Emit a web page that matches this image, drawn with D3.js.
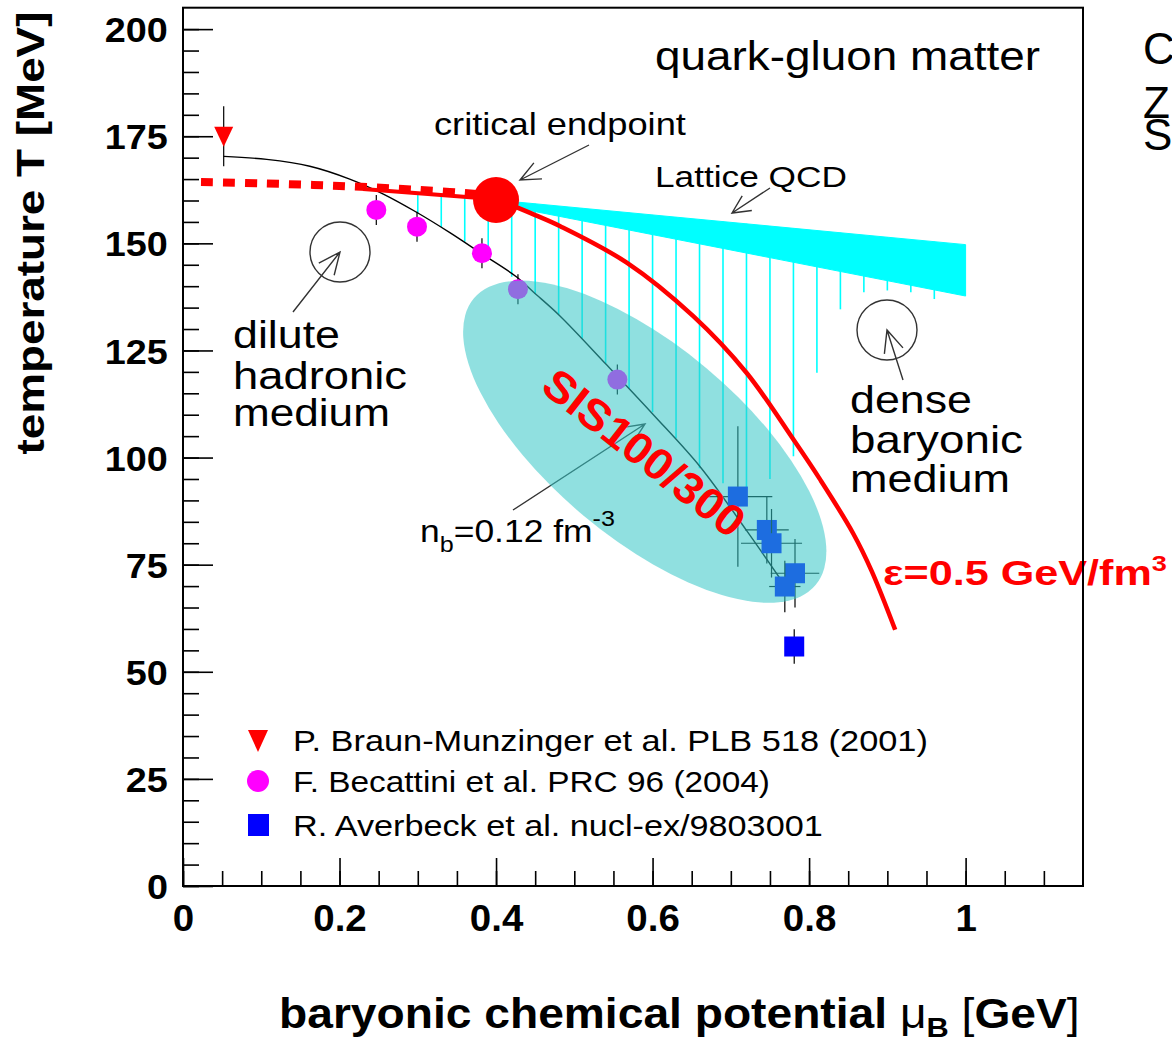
<!DOCTYPE html>
<html>
<head>
<meta charset="utf-8">
<script src="https://cdn.jsdelivr.net/npm/d3@7"></script>
<style>
  body { margin: 0; background: #fff; }
  svg { display: block; }
  text { font-family: "Liberation Sans", Arial, Helvetica, sans-serif; }
</style>
</head>
<body>
<svg id="chart" width="1172" height="1040"></svg>
<script>
// ---- axis ticks ----
const xMajorTicks = [0, 0.2, 0.4, 0.6, 0.8, 1];
const xTickLabels = ["0", "0.2", "0.4", "0.6", "0.8", "1"];
const yMajorTicks = [0, 25, 50, 75, 100, 125, 150, 175, 200];
const yTickLabels = ["0", "25", "50", "75", "100", "125", "150", "175", "200"];

// ---- freeze-out data ----
const braunMu = [0.052];
const braunT = [175];
const braunTErr = [7];

const becattiniMu = [0.247, 0.299, 0.382, 0.428, 0.555];
const becattiniT = [157.8, 153.9, 147.7, 139.3, 118.2];
const becattiniTErr = [3.5, 3.5, 3.5, 3.5, 3.5];

const averbeckMu = [0.709, 0.746, 0.752, 0.782, 0.769, 0.781];
const averbeckT = [90.9, 83.1, 80.0, 73.0, 69.9, 55.9];
const averbeckTErr = [16.4, 7.8, 8, 8, 6, 4];
const averbeckMuErr = [0.044, 0.028, 0.039, 0.031, 0.02, 0];

// ---- n_b = 0.12 fm^-3 line ----
const nbMu = [0.052, 0.107, 0.162, 0.213, 0.256, 0.299, 0.341, 0.384, 0.426, 0.448, 0.482, 0.541, 0.601, 0.661, 0.720, 0.776];
const nbT = [170.3, 169.6, 168.0, 165.0, 161.5, 157.2, 152.5, 147.3, 142.2, 138.6, 133.0, 121.7, 110.0, 97.8, 83.0, 68.3];

// ---- crossover (dashed) and first-order line ----
const crossMu = [0.023, 0.1, 0.2, 0.3, 0.4];
const crossT = [164.3, 164.0, 163.4, 162.5, 161.2];
const transMu = [0.23, 0.4];
const transT = [162.7, 160.3];

// ---- critical endpoint ----
const cepMu = [0.4];
const cepT = [160.1];

// ---- epsilon = 0.5 GeV/fm^3 curve ----
const epsMu = [0.401, 0.45, 0.482, 0.567, 0.652, 0.720, 0.780, 0.814, 0.856, 0.880, 0.910];
const epsT = [160.3, 156.6, 154.0, 145.5, 133.0, 119.8, 104.2, 94.9, 82.4, 73.5, 59.8];

// ---- lattice QCD band ----
const latticeMu = [0.40, 1.0];
const latticeHigh = [160.1, 149.7];
const latticeLow = [159.2, 137.7];

// ---- hatched region below the transition ----
const hatchMu = [0.30, 0.33, 0.36, 0.39, 0.42, 0.45, 0.48, 0.51, 0.54, 0.57, 0.60, 0.63, 0.66, 0.69, 0.72, 0.75, 0.78, 0.81, 0.84, 0.87, 0.90, 0.93, 0.96];
const hatchLow = [157.0, 153.8, 150.4, 146.6, 142.2, 138.2, 133.4, 127.8, 122.0, 116.2, 110.6, 104.5, 97.5, 94.0, 93.0, 95.0, 100.3, 119.8, 134.6, 138.6, 139.0, 138.6, 137.0];

// ---- SIS100/300 region (centre in data units) ----
const sisCenter = [0.59, 103.7];

const legendLabels = [
  "P. Braun-Munzinger et al. PLB 518 (2001)",
  "F. Becattini et al. PRC 96 (2004)",
  "R. Averbeck et al. nucl-ex/9803001"
];

// ================= drawing =================
const svg = d3.select("#chart");
const FONT = '"Liberation Sans", Arial, Helvetica, sans-serif';

const x = d3.scaleLinear().domain([0, 1.15]).range([183, 1083]);
const y = d3.scaleLinear().domain([0, 205]).range([886, 7.7]);

const RED = "#ff0000", CYAN = "#00ffff", MAGENTA = "#ff00ff", BLUE = "#0000ff";
const smooth = d3.curveCatmullRom.alpha(0.5);

const interp = (xs, ys, v) => {
  for (let i = 0; i < xs.length - 1; i++) {
    if (v >= xs[i] && v <= xs[i + 1]) {
      const t = (v - xs[i]) / (xs[i + 1] - xs[i]);
      return ys[i] + t * (ys[i + 1] - ys[i]);
    }
  }
  return v < xs[0] ? ys[0] : ys[ys.length - 1];
};

// text helper: optional horizontal fit to a target width
function label(parent, px, py, content, o) {
  const g = parent.append("g")
    .attr("transform", `translate(${px},${py})` + (o.rotate ? ` rotate(${o.rotate})` : ""));
  const t = g.append("text")
    .attr("font-size", o.size)
    .attr("font-weight", o.weight || "normal")
    .attr("fill", o.fill || "#000")
    .attr("text-anchor", o.anchor || "start");
  if (o.baseline) t.attr("dominant-baseline", o.baseline);
  if (typeof content === "string") t.text(content); else content(t);
  if (o.width) {
    const w = t.node().getComputedTextLength();
    t.attr("transform", `scale(${o.width / w},1)`);
  }
  return t;
}

// open "V" arrow
function arrow(parent, x1, y1, x2, y2, len = 20, ang = 24) {
  const a = Math.atan2(y1 - y2, x1 - x2);
  const r = ang * Math.PI / 180;
  const p1 = [x2 + len * Math.cos(a + r), y2 + len * Math.sin(a + r)];
  const p2 = [x2 + len * Math.cos(a - r), y2 + len * Math.sin(a - r)];
  parent.append("path")
    .attr("d", `M${x1},${y1}L${x2},${y2}M${p1[0]},${p1[1]}L${x2},${y2}L${p2[0]},${p2[1]}`)
    .attr("fill", "none").attr("stroke", "#333").attr("stroke-width", 1.4);
}

const plot = svg.append("g");

// hatched region: from the transition line / band down to the lower bound
const topAt = mu => mu < 0.4 ? interp(transMu, transT, mu) : interp(latticeMu, latticeHigh, mu);
plot.append("g").selectAll("line").data(hatchMu).join("line")
  .attr("x1", d => x(d)).attr("x2", d => x(d))
  .attr("y1", d => y(topAt(d)))
  .attr("y2", (d, i) => y(hatchLow[i]))
  .attr("stroke", CYAN).attr("stroke-width", 1.6);

// lattice QCD band
const bandData = latticeMu.map((m, i) => ({ m, hi: latticeHigh[i], lo: latticeLow[i] }));
plot.append("path").datum(bandData)
  .attr("d", d3.area().x(d => x(d.m)).y0(d => y(d.lo)).y1(d => y(d.hi)))
  .attr("fill", CYAN).attr("stroke", CYAN).attr("stroke-width", 1).attr("stroke-linejoin", "round");

// n_b line
plot.append("path").datum(nbMu.map((m, i) => [m, nbT[i]]))
  .attr("d", d3.line().x(d => x(d[0])).y(d => y(d[1])).curve(smooth))
  .attr("fill", "none").attr("stroke", "#000").attr("stroke-width", 1.4);

// Becattini points with error bars
const bec = plot.append("g");
becattiniMu.forEach((m, i) => {
  bec.append("line").attr("x1", x(m)).attr("x2", x(m))
    .attr("y1", y(becattiniT[i] + becattiniTErr[i])).attr("y2", y(becattiniT[i] - becattiniTErr[i]))
    .attr("stroke", "#000").attr("stroke-width", 1.2);
  bec.append("circle").attr("cx", x(m)).attr("cy", y(becattiniT[i])).attr("r", 10).attr("fill", MAGENTA);
});

// Averbeck points with error bars
const avb = plot.append("g");
averbeckMu.forEach((m, i) => {
  const cx = x(m), cy = y(averbeckT[i]);
  avb.append("line").attr("x1", cx).attr("x2", cx)
    .attr("y1", y(averbeckT[i] + averbeckTErr[i])).attr("y2", y(averbeckT[i] - averbeckTErr[i]))
    .attr("stroke", "#000").attr("stroke-width", 1.2);
  if (averbeckMuErr[i] > 0) {
    avb.append("line").attr("x1", x(m - averbeckMuErr[i])).attr("x2", x(m + averbeckMuErr[i]))
      .attr("y1", cy).attr("y2", cy).attr("stroke", "#000").attr("stroke-width", 1.2);
  }
  avb.append("rect").attr("x", cx - 10).attr("y", cy - 10).attr("width", 20).attr("height", 20).attr("fill", BLUE);
});

// n_b label arrow (under the SIS region)
arrow(plot, 513, 510, 645, 424, 20, 24);

// SIS100/300 region
plot.append("ellipse")
  .attr("transform", `translate(${x(sisCenter[0])},${y(sisCenter[1])}) rotate(40)`)
  .attr("rx", 223).attr("ry", 96)
  .attr("fill", "rgb(52,199,199)").attr("fill-opacity", 0.55);

// dashed crossover
plot.append("path").datum(crossMu.map((m, i) => [m, crossT[i]]))
  .attr("d", d3.line().x(d => x(d[0])).y(d => y(d[1])).curve(smooth))
  .attr("fill", "none").attr("stroke", RED).attr("stroke-width", 8).attr("stroke-dasharray", "12,10");

// first-order line towards the endpoint
plot.append("path").datum(transMu.map((m, i) => [m, transT[i]]))
  .attr("d", d3.line().x(d => x(d[0])).y(d => y(d[1])))
  .attr("fill", "none").attr("stroke", RED).attr("stroke-width", 4);

// epsilon = 0.5 GeV/fm^3 curve
plot.append("path").datum(epsMu.map((m, i) => [m, epsT[i]]))
  .attr("d", d3.line().x(d => x(d[0])).y(d => y(d[1])).curve(smooth))
  .attr("fill", "none").attr("stroke", RED).attr("stroke-width", 4.5);

// critical endpoint
plot.selectAll(".cep").data(cepMu).join("circle").attr("class", "cep")
  .attr("cx", d => x(d)).attr("cy", (d, i) => y(cepT[i])).attr("r", 23).attr("fill", RED);

// Braun-Munzinger point
braunMu.forEach((m, i) => {
  const cx = x(m), cy = y(braunT[i]);
  plot.append("line").attr("x1", cx).attr("x2", cx)
    .attr("y1", y(braunT[i] + braunTErr[i])).attr("y2", y(braunT[i] - braunTErr[i]))
    .attr("stroke", "#000").attr("stroke-width", 1.2);
  plot.append("path").attr("d", `M${cx - 9.5},${cy - 9.5}L${cx + 9.5},${cy - 9.5}L${cx},${cy + 10.5}Z`).attr("fill", RED);
});

// ---- annotations ----
const ann = svg.append("g");
label(ann, 655, 70, "quark-gluon matter", { size: 41, width: 385 });
label(ann, 434, 135, "critical endpoint", { size: 31, width: 252 });
arrow(ann, 589, 145, 520, 180, 22, 24);
label(ann, 655, 187, "Lattice QCD", { size: 30, width: 192 });
arrow(ann, 770, 188, 732, 213, 20, 26);

// dilute hadronic medium
ann.append("circle").attr("cx", 340).attr("cy", 252).attr("r", 30).attr("fill", "none").attr("stroke", "#333").attr("stroke-width", 1.4);
arrow(ann, 293, 312, 340, 252, 24, 24);
label(ann, 233, 348, "dilute", { size: 39, width: 107 });
label(ann, 233, 389, "hadronic", { size: 39, width: 174 });
label(ann, 233, 426, "medium", { size: 39, width: 157 });

// dense baryonic medium
ann.append("circle").attr("cx", 887).attr("cy", 330).attr("r", 30).attr("fill", "none").attr("stroke", "#333").attr("stroke-width", 1.4);
arrow(ann, 903, 380, 887, 330, 24, 24);
label(ann, 850, 413, "dense", { size: 39, width: 122 });
label(ann, 850, 453, "baryonic", { size: 39, width: 173 });
label(ann, 850, 492, "medium", { size: 39, width: 160 });

// n_b label
label(ann, 420, 542, t => {
  t.append("tspan").text("n");
  t.append("tspan").attr("font-size", 22).attr("dy", 10).text("b");
  t.append("tspan").attr("dy", -10).text("=0.12 fm");
  t.append("tspan").attr("font-size", 22).attr("dy", -16).text("-3");
}, { size: 31, width: 195 });

// SIS100/300
label(ann, 644, 453, "SIS100/300", { size: 44, weight: "bold", fill: RED, anchor: "middle", baseline: "central", rotate: 38, width: 243 });

// epsilon label
label(ann, 883, 585, t => {
  t.append("tspan").text("ε=0.5 GeV/fm");
  t.append("tspan").attr("font-size", 22).attr("dy", -14).text("3");
}, { size: 35, weight: "bold", fill: RED, width: 284 });

// text at the right edge
label(ann, 1143, 64, "C", { size: 44 });
label(ann, 1143, 118, "Z", { size: 44 });
label(ann, 1143, 150, "S", { size: 44 });

// ---- legend ----
const leg = svg.append("g");
const legY = [740, 781, 825];
leg.append("path").attr("d", `M${258 - 10},${legY[0] - 10}L${258 + 10},${legY[0] - 10}L258,${legY[0] + 12}Z`).attr("fill", RED);
leg.append("circle").attr("cx", 258).attr("cy", legY[1]).attr("r", 11).attr("fill", MAGENTA);
leg.append("rect").attr("x", 248).attr("y", legY[2] - 11).attr("width", 21).attr("height", 22).attr("fill", BLUE);
const legW = [635, 477, 530];
legendLabels.forEach((s, i) => label(leg, 293, legY[i] + 11, s, { size: 30, width: legW[i] }));

// ---- axes ----
const axes = svg.append("g");
const xMinor = d3.range(0, 21).map(i => i * 0.05).concat([1.05, 1.1]);
axes.append("g").attr("transform", `translate(0,${y(0)})`)
  .call(d3.axisBottom(x).tickValues(xMinor).tickSize(-15).tickFormat(""))
  .call(g => g.select(".domain").remove())
  .call(g => g.selectAll("line").attr("stroke-width", 1.6));
const gx = axes.append("g").attr("transform", `translate(0,${y(0)})`)
  .call(d3.axisBottom(x).tickValues(xMajorTicks).tickSize(-28).tickPadding(19)
    .tickFormat((d, i) => xTickLabels[i]))
  .call(g => g.select(".domain").remove())
  .call(g => g.selectAll("line").attr("stroke-width", 1.6));
gx.selectAll("text").attr("font-size", 37).attr("font-weight", "bold").attr("fill", "#000")
  .attr("font-family", FONT).attr("transform", "scale(1.04,1)");

const yMinor = d3.range(0, 41).map(i => i * 5);
axes.append("g").attr("transform", `translate(${x(0)},0)`)
  .call(d3.axisLeft(y).tickValues(yMinor).tickSize(-16).tickFormat(""))
  .call(g => g.select(".domain").remove())
  .call(g => g.selectAll("line").attr("stroke-width", 1.6));
const gy = axes.append("g").attr("transform", `translate(${x(0)},0)`)
  .call(d3.axisLeft(y).tickValues(yMajorTicks).tickSize(-30).tickPadding(14)
    .tickFormat((d, i) => yTickLabels[i]))
  .call(g => g.select(".domain").remove())
  .call(g => g.selectAll("line").attr("stroke-width", 1.6));
gy.selectAll("text").attr("font-size", 35).attr("font-weight", "bold").attr("fill", "#000")
  .attr("font-family", FONT).attr("dy", "0.36em").attr("transform", "scale(1.08,1)");

// frame
axes.append("rect").attr("x", x(0)).attr("y", y(205)).attr("width", x(1.15) - x(0)).attr("height", y(0) - y(205))
  .attr("fill", "none").attr("stroke", "#000").attr("stroke-width", 2);

// axis titles
label(svg, 44, 233, "temperature T [MeV]", { size: 39, weight: "bold", anchor: "middle", rotate: -90, width: 443 });
label(svg, 279, 1028, t => {
  t.append("tspan").text("baryonic chemical potential ");
  t.append("tspan").attr("font-weight", "normal").text("μ");
  t.append("tspan").attr("font-size", 28).attr("dy", 9).text("B");
  t.append("tspan").attr("dy", -9).text(" ");
  t.append("tspan").attr("font-weight", "normal").text("[");
  t.append("tspan").text("GeV");
  t.append("tspan").attr("font-weight", "normal").text("]");
}, { size: 42, weight: "bold", width: 801 });
</script>
</body>
</html>
